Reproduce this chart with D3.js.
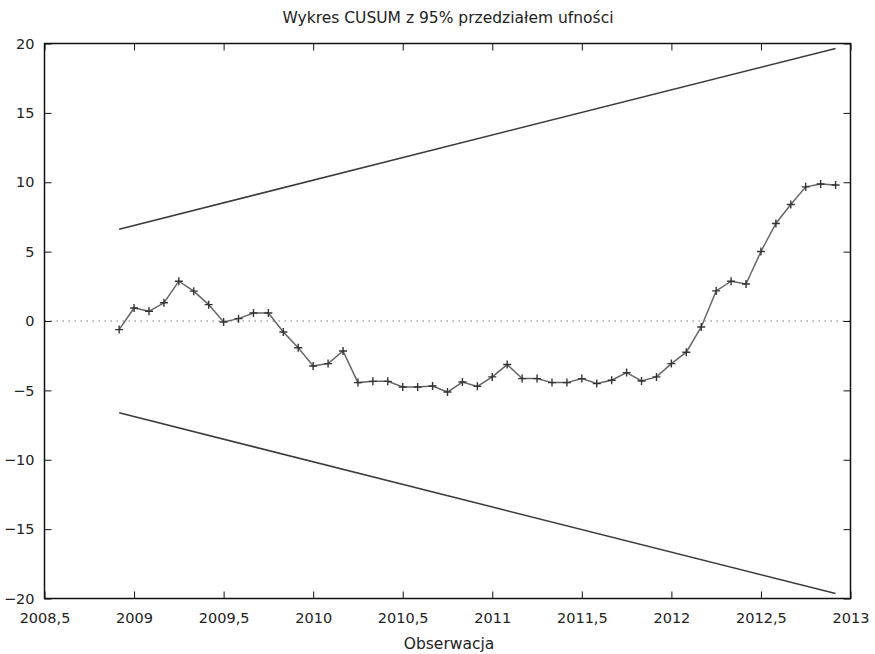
<!DOCTYPE html>
<html>
<head>
<meta charset="utf-8">
<script src="https://cdn.jsdelivr.net/npm/d3@7"></script>
<style>
  html, body { margin: 0; padding: 0; background: #fff; }
  svg text { font-family: "DejaVu Sans", Verdana, sans-serif; fill: #222; }
</style>
</head>
<body>
<svg id="chart" width="875" height="654"></svg>
<script>
// CUSUM of recursive residuals, monthly observations Dec 2008 - Dec 2012
const startYear = 2008 + 11 / 12;
const cusum = [
  -0.62, 0.94, 0.70, 1.31, 2.87, 2.15, 1.18, -0.07, 0.17, 0.58, 0.58, -0.79,
  -1.93, -3.24, -3.07, -2.16, -4.44, -4.35, -4.35, -4.76, -4.76, -4.68, -5.12, -4.40,
  -4.71, -4.03, -3.14, -4.15, -4.15, -4.44, -4.44, -4.15, -4.51, -4.27, -3.72, -4.32,
  -4.03, -3.07, -2.25, -0.43, 2.17, 2.87, 2.67, 5.01, 7.03, 8.40, 9.67, 9.87, 9.80
];
// 95% confidence band: value at first and last observation
const upperBand = [6.62, 19.64];
const lowerBand = [-6.62, -19.64];

const xTicks = [2008.5, 2009, 2009.5, 2010, 2010.5, 2011, 2011.5, 2012, 2012.5, 2013];
const yTicks = [-20, -15, -10, -5, 0, 5, 10, 15, 20];

const title = "Wykres CUSUM z 95% przedziałem ufności";
const xTitle = "Obserwacja";

const mLeft = 44.5, mRight = 850.5, mTop = 43.5, mBottom = 598.5;
const svg = d3.select("#chart");

const x = d3.scaleLinear().domain([2008.5, 2013]).range([mLeft, mRight]);
const y = d3.scaleLinear().domain([-20, 20]).range([mBottom, mTop]);

const pts = cusum.map((v, i) => ({ t: startYear + i / 12, v }));
const tFirst = pts[0].t, tLast = pts[pts.length - 1].t;

const fmt = d => String(d).replace(".", ",");

// zero reference line
svg.append("line")
  .attr("x1", mLeft).attr("x2", mRight)
  .attr("y1", y(0)).attr("y2", y(0))
  .attr("stroke", "#777").attr("stroke-width", 1)
  .attr("stroke-dasharray", "1.5,4.5");

// confidence band lines
const line = d3.line().x(d => x(d[0])).y(d => y(d[1]));
[upperBand, lowerBand].forEach(b => {
  svg.append("path")
    .attr("d", line([[tFirst, b[0]], [tLast, b[1]]]))
    .attr("fill", "none").attr("stroke", "#3a3a3a").attr("stroke-width", 1.5);
});

// CUSUM path
svg.append("path")
  .attr("d", d3.line().x(d => x(d.t)).y(d => y(d.v))(pts))
  .attr("fill", "none").attr("stroke", "#666").attr("stroke-width", 1.5);

// cross markers
const s = 4;
svg.append("g").selectAll("path").data(pts).join("path")
  .attr("d", d => {
    const cx = x(d.t), cy = y(d.v);
    return `M${cx - s},${cy}H${cx + s}M${cx},${cy - s}V${cy + s}`;
  })
  .attr("stroke", "#333").attr("stroke-width", 1.4).attr("fill", "none");

// axes with inward ticks on all four sides
const tl = 7;
svg.append("g").attr("transform", `translate(0,${mBottom})`)
  .call(d3.axisBottom(x).tickValues(xTicks).tickSize(-tl).tickPadding(14).tickFormat(fmt))
  .call(g => g.select(".domain").remove());
svg.append("g").attr("transform", `translate(0,${mTop})`)
  .call(d3.axisTop(x).tickValues(xTicks).tickSize(-tl).tickFormat(""))
  .call(g => g.select(".domain").remove());
svg.append("g").attr("transform", `translate(${mLeft},0)`)
  .call(d3.axisLeft(y).tickValues(yTicks).tickSize(-tl).tickPadding(10).tickFormat(d3.format("d")))
  .call(g => g.select(".domain").remove());
svg.append("g").attr("transform", `translate(${mRight},0)`)
  .call(d3.axisRight(y).tickValues(yTicks).tickSize(-tl).tickFormat(""))
  .call(g => g.select(".domain").remove());

svg.selectAll(".tick line").attr("stroke", "#111").attr("stroke-width", 1);
svg.selectAll(".tick text").attr("font-size", 14.5).attr("fill", "#222")
  .attr("font-family", "\"DejaVu Sans\", Verdana, sans-serif");

// frame
svg.append("rect")
  .attr("x", mLeft).attr("y", mTop)
  .attr("width", mRight - mLeft).attr("height", mBottom - mTop)
  .attr("fill", "none").attr("stroke", "#111").attr("stroke-width", 1.5);

svg.append("text").attr("x", 448).attr("y", 23)
  .attr("text-anchor", "middle").attr("font-size", 15.5).text(title);
svg.append("text").attr("x", 449).attr("y", 649)
  .attr("text-anchor", "middle").attr("font-size", 15.5).text(xTitle);
</script>
</body>
</html>
